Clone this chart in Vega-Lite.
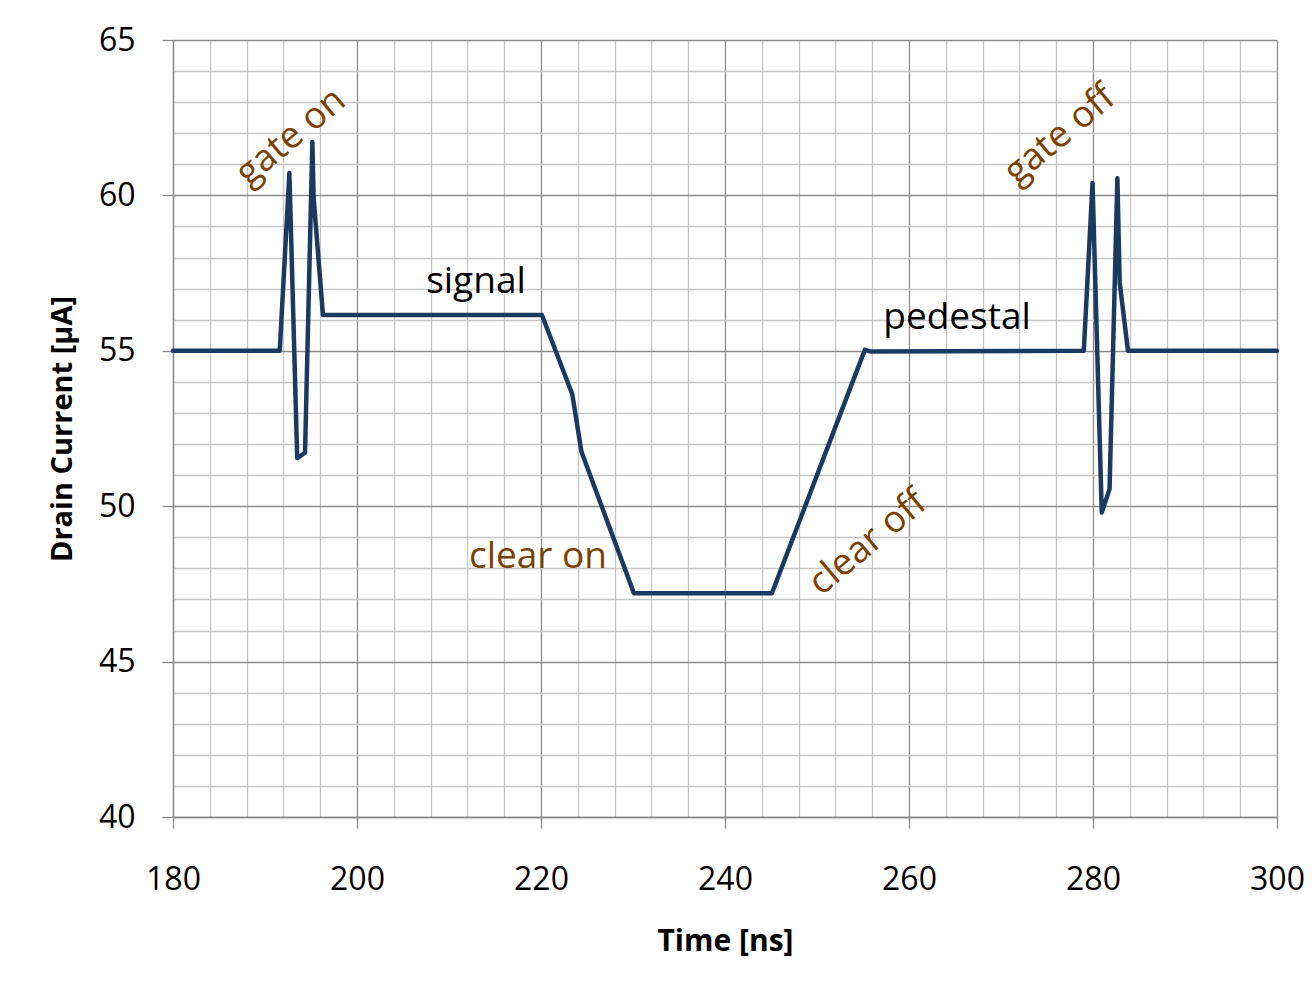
{
  "$schema": "https://vega.github.io/schema/vega-lite/v6.json",
  "width": 1104,
  "height": 777,
  "autosize": {"type": "none"},
  "padding": {"left": 173, "top": 40, "right": 35, "bottom": 166},
  "background": "white",
  "config": {
    "view": {"stroke": null},
    "font": "Open Sans"
  },
  "datasets": {
    "curve": [
      {"t": 180, "i": 55},
      {"t": 191.6, "i": 55},
      {"t": 192.65, "i": 60.72},
      {"t": 193.5, "i": 51.55},
      {"t": 194.35, "i": 51.72},
      {"t": 195.15, "i": 61.72},
      {"t": 195.28, "i": 59.95},
      {"t": 196.3, "i": 56.15},
      {"t": 220.1, "i": 56.15},
      {"t": 223.4, "i": 53.6},
      {"t": 224.4, "i": 51.75},
      {"t": 230.1, "i": 47.2},
      {"t": 245.1, "i": 47.2},
      {"t": 255.2, "i": 55.03},
      {"t": 255.8, "i": 54.98},
      {"t": 279.0, "i": 55},
      {"t": 279.95, "i": 60.4},
      {"t": 280.95, "i": 49.8},
      {"t": 281.8, "i": 50.55},
      {"t": 282.65, "i": 60.55},
      {"t": 282.9, "i": 57.2},
      {"t": 283.8, "i": 55},
      {"t": 300, "i": 55}
    ],
    "notes": [
      {"label": "gate on", "t": 192.83, "i": 61.88, "kind": "rot"},
      {"label": "clear off", "t": 255.54, "i": 48.82, "kind": "rot"},
      {"label": "gate off", "t": 276.41, "i": 61.94, "kind": "rot"},
      {"label": "clear on", "t": 219.67, "i": 48.37, "kind": "brown"},
      {"label": "signal", "t": 212.93, "i": 57.21, "kind": "black"},
      {"label": "pedestal", "t": 265.22, "i": 56.06, "kind": "black"}
    ]
  },
  "layer": [
    {
      "data": {"name": "curve"},
      "mark": {"type": "line", "color": "#1b3a62", "strokeWidth": 4.5, "strokeJoin": "round", "strokeCap": "round", "clip": false},
      "encoding": {
        "x": {
          "field": "t", "type": "quantitative",
          "scale": {"domain": [180, 300], "nice": false, "zero": false},
          "axis": {
            "title": "Time [ns]",
            "tickCount": 100,
            "format": "d",
            "values": [180,184,188,192,196,200,204,208,212,216,220,224,228,232,236,240,244,248,252,256,260,264,268,272,276,280,284,288,292,296,300],
            "labelExpr": "datum.value % 20 === 0 ? datum.label : ''",
            "labelFont": "Open Sans", "labelFontSize": 32, "labelColor": "#000000",
            "labelPadding": 36, "labelFlush": false, "labelOverlap": false,
            "tickSize": 11, "tickWidth": 1.3, "tickColor": "#8a8a8a",
            "tickOpacity": {"condition": {"test": "datum.value % 20 === 0", "value": 1}, "value": 0},
            "domainColor": "#8a8a8a", "domainWidth": 1.3,
            "grid": true, "gridWidth": 1.3,
            "gridColor": {"condition": {"test": "datum.value % 20 === 0", "value": "#8c8c8c"}, "value": "#c6c6c6"},
            "titleFont": "Open Sans", "titleFontSize": 30, "titleFontWeight": "bold", "titleColor": "#000000",
            "titlePadding": 31
          }
        },
        "y": {
          "field": "i", "type": "quantitative",
          "scale": {"domain": [40, 65], "nice": false, "zero": false},
          "axis": {
            "title": "Drain Current [µA]",
            "tickCount": 100,
            "format": "d",
            "values": [40,41,42,43,44,45,46,47,48,49,50,51,52,53,54,55,56,57,58,59,60,61,62,63,64,65],
            "labelExpr": "datum.value % 5 === 0 ? datum.label : ''",
            "labelFont": "Open Sans", "labelFontSize": 32, "labelColor": "#000000",
            "labelPadding": 27, "labelFlush": false, "labelOverlap": false,
            "tickSize": 11, "tickWidth": 1.3, "tickColor": "#8a8a8a",
            "tickOpacity": {"condition": {"test": "datum.value % 5 === 0", "value": 1}, "value": 0},
            "domainColor": "#8a8a8a", "domainWidth": 1.3,
            "grid": true, "gridWidth": 1.3,
            "gridColor": {"condition": {"test": "datum.value % 5 === 0", "value": "#8c8c8c"}, "value": "#c6c6c6"},
            "titleFont": "Open Sans", "titleFontSize": 29, "titleFontWeight": "bold", "titleColor": "#000000",
            "titlePadding": 21
          }
        }
      }
    },
    {
      "data": {"name": "notes"},
      "transform": [{"filter": "datum.kind === 'rot'"}],
      "mark": {"type": "text", "angle": -40, "align": "center", "baseline": "middle", "font": "Open Sans", "fontSize": 37, "color": "#7a4100"},
      "encoding": {
        "x": {"field": "t", "type": "quantitative"},
        "y": {"field": "i", "type": "quantitative"},
        "text": {"field": "label"}
      }
    },
    {
      "data": {"name": "notes"},
      "transform": [{"filter": "datum.kind === 'brown'"}],
      "mark": {"type": "text", "align": "center", "baseline": "middle", "font": "Open Sans", "fontSize": 37, "color": "#7a4100"},
      "encoding": {
        "x": {"field": "t", "type": "quantitative"},
        "y": {"field": "i", "type": "quantitative"},
        "text": {"field": "label"}
      }
    },
    {
      "data": {"name": "notes"},
      "transform": [{"filter": "datum.kind === 'black'"}],
      "mark": {"type": "text", "align": "center", "baseline": "middle", "font": "Open Sans", "fontSize": 37, "color": "#000000"},
      "encoding": {
        "x": {"field": "t", "type": "quantitative"},
        "y": {"field": "i", "type": "quantitative"},
        "text": {"field": "label"}
      }
    }
  ]
}
